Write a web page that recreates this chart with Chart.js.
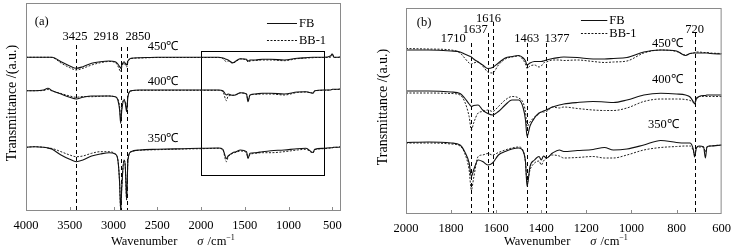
<!DOCTYPE html>
<html>
<head>
<meta charset="UTF-8">
<title>FTIR FB / BB-1</title>
<script src="https://cdn.jsdelivr.net/npm/chart.js"></script>
<style>
    body { margin: 0; background: #fff; }
    .panel { position: absolute; top: 0; height: 250px; }
    #wrapA { left: 0; width: 370px; }
    #wrapB { left: 370px; width: 368px; }
</style>
</head>
<body>
<div class="panel" id="wrapA"><canvas id="chartA"></canvas></div>
<div class="panel" id="wrapB"><canvas id="chartB"></canvas></div>
<script>
// ---- panel (a): 4000-400 cm-1, transmittance in arbitrary units ----
const wnA = [4000,3900,3800,3750,3700,3600,3500,3425,3350,3250,3150,3050,2980,2950,2930,2918,2905,2880,2865,2850,2835,2800,2700,2500,2200,2000,1800,1750,1710,1690,1637,1600,1550,1480,1463,1440,1377,1300,1200,1050,900,800,720,700,600,520,500,480,440,400];
const fbA450 = [153.7,153.7,153.7,153.7,153.7,149.3,145,142.7,144.3,147.7,149.3,150,149.3,147,144.3,142.7,146,149.3,147.7,146,150,152.7,153.3,153.7,153.7,153.7,153.7,153,151.7,151,148.3,150,152.3,151.7,149.7,151,151,151.7,151.7,151,152.7,153.3,153.7,153.7,153.7,155,156.7,153.7,153.7,154.3];
const bbA450 = [153.7,153.7,153.7,153.7,153.5,148,143.3,141,142.7,146,148.3,149.5,148.5,145,141,139,144,148,146,144,149,152.5,153,153.5,153.5,153.5,153.5,152.5,149.3,150,147.7,149.5,152,151,149,150,150.5,151,151,150.3,152.3,153,153.3,153.5,153.5,153.7,157.7,153.7,153.5,154];
const fbA400 = [120.3,120.3,121,122.7,120.3,117,113.7,112,113.7,115,115,115,114.3,111,101,87.7,101,111,107.7,99.3,114.3,120.3,121,121,121,121,121,120.3,116,117,115.7,116.3,118.3,117,109.3,116,117,117.7,117.7,117,119,119.3,117.7,120.3,121,121,121.7,121.7,121.7,122.3];
const bbA400 = [120.3,120.3,120.5,121.5,120,117.5,115,113.7,114.5,114.3,114.7,115,114,112,104,92.7,104,112,109.3,102.7,115.3,120,120.7,120.7,120.7,120.7,120.7,119.5,110.3,115,115.7,116.3,118,117,111,115.7,116.7,117,117,116,118.5,119,118,120,120.7,121,121.5,121.5,121.5,122];
const fbA350 = [63.7,64.3,63.7,63,61.7,56,51.7,49.3,51,55,57,58.3,57,51,28,1,24.3,51,44.3,11,51,59.3,61,61.7,62.3,62.7,63,61.7,52.5,55,58.3,59.3,61,59.3,52.7,57.7,58.3,59.3,60.3,61,62.3,62.7,58.5,61.7,62.7,63.3,63.3,63.7,63.7,64.3];
const bbA350 = [63.7,64.3,63.7,63,62.5,59.3,56,54.3,55,57.7,59.3,59.3,57,51,28,1,24.3,51,44.3,11,51,59,60.7,61.3,62,62.3,62.7,61,49.3,54,57.7,58.7,60,58.3,52.7,56.3,57.7,58.3,58.3,59.3,61,61.7,58,61.3,62.3,63,63.3,63.7,63.7,64.3];
const ticksA = [4000,3500,3000,2500,2000,1500,1000,500];
const peaksA = [3425,2918,2850];

// ---- panel (b): 2000-600 cm-1 ----
const wnB = [2000,1900,1800,1760,1740,1720,1710,1700,1680,1660,1637,1616,1590,1560,1530,1500,1480,1470,1463,1450,1430,1410,1400,1390,1377,1350,1320,1300,1240,1170,1120,1080,1020,945,870,800,760,740,725,720,712,700,680,672,665,650,600];
const fbB450 = [164,164,163,162,160,158,157,155,152,149,145.5,146.5,151,156,157.5,158.5,156,153,149,151,152.5,152.5,152.5,153,154,155.5,156.5,157,156.5,155,155,155.5,156.5,162,164,163,158.5,160.5,161,161,161,161,161,161,161,160.5,160];
const bbB450 = [165.5,165,164,161,156,151,150,151,152,148,142,141,149,155,157,158,154,150,145.5,148,149,147,148,151,152,154,154,153.5,154,152.5,151.5,152,153,161,164,162.5,159,160.5,161,161.5,162,162,161.5,161.5,161.5,161,160.5];
const fbB400 = [123,123,122,120.5,116,110,107.5,108.5,109,104,100.5,99,102.5,109,114,114,106,94,77.5,88,96,101,102,103,104,107,109,110,111.5,112.5,112,111.5,114,119,120.7,120,119,117,112,110,115,117.5,118.5,118.5,119,119,119];
const bbB400 = [121,121,120.5,119,112.5,97.5,84,91,101,102.5,104,102.5,107.5,114,117.5,116,111,102,87.5,92,97,100,102,102,102.5,107,106,107,105.5,104,103.5,103.5,106,112.5,115,115,114.5,113.5,111.5,111,116,117.5,117.5,117.5,117.5,117.5,117.5];
const fbB350 = [71.5,72,71,69,62.5,51,37.5,44,54,52.5,49,51,59,62.5,65,66,62.5,52,27.5,47.5,54,57.5,54,58,56,61,64,62.5,63.5,64.5,66.5,64,65,69,73.5,71.5,71,71,64,57,66,68,67,56,67,68,69];
const bbB350 = [71,71,70,68,61,44,24,36,57.5,59,60.5,59,61.5,64,66,67,63,52,31,44,51,53,49,53,56,59,58,56,56.5,57.5,56,56,59,64,66.5,67.5,68,68,63,59,66,67,67,62,67,68,69];
const ticksB = [2000,1800,1600,1400,1200,1000,800,600];
const peaksB = [1710,1637,1616,1463,1377,720];

const temps = ['450℃', '400℃', '350℃'];
const seriesNames = ['FB', 'BB-1'];

const SERIF = '"Liberation Serif", "Times New Roman", serif';

function pts(wn, vals) {
    return wn.map((w, i) => ({ x: w, y: vals[i] }));
}

function sets(wn, fbs, bbs) {
    const out = [];
    fbs.forEach((v, i) => {
        out.push({ label: seriesNames[0] + ' ' + temps[i], data: pts(wn, v), borderColor: '#111', borderWidth: 1.1, pointRadius: 0, cubicInterpolationMode: 'monotone' });
        out.push({ label: seriesNames[1] + ' ' + temps[i], data: pts(wn, bbs[i]), borderColor: '#222', borderWidth: 1, borderDash: [2, 1.5], pointRadius: 0, cubicInterpolationMode: 'monotone' });
    });
    return out;
}

// frame, inner ticks, peak markers, labels, legend
function decor(o) {
    return {
        id: 'decor',
        beforeDatasetsDraw(chart) {
            const { ctx, chartArea: a, scales: { x, y } } = chart;
            ctx.save();
            ctx.strokeStyle = '#000';
            ctx.lineWidth = 1;
            ctx.setLineDash([4, 3]);
            o.peaks.forEach((w, i) => {
                const px = Math.round(x.getPixelForValue(w)) + 0.5;
                ctx.beginPath();
                ctx.moveTo(px, y.getPixelForValue(o.peakTops[i]));
                ctx.lineTo(px, a.bottom);
                ctx.stroke();
            });
            if (o.box) {
                ctx.setLineDash([]);
                const x1 = Math.round(x.getPixelForValue(o.box[0])) + 0.5, x2 = Math.round(x.getPixelForValue(o.box[1])) + 0.5;
                const y1 = Math.round(y.getPixelForValue(o.box[2])) + 0.5, y2 = Math.round(y.getPixelForValue(o.box[3])) + 0.5;
                ctx.strokeRect(x1, y1, x2 - x1, y2 - y1);
            }
            ctx.restore();
        },
        afterDatasetsDraw(chart) {
            const { ctx, chartArea: a, scales: { x, y } } = chart;
            ctx.save();
            ctx.strokeStyle = '#8a8a8a';
            ctx.lineWidth = 1;
            ctx.strokeRect(a.left + 0.5, a.top + 0.5, a.right - a.left - 1, a.bottom - a.top - 1);
            x.ticks.forEach(t => {
                const px = Math.round(x.getPixelForValue(t.value)) + 0.5;
                if (px > a.left + 3 && px < a.right - 3) {
                    ctx.beginPath();
                    ctx.moveTo(px, a.bottom);
                    ctx.lineTo(px, a.bottom - 4);
                    ctx.stroke();
                }
            });
            ctx.fillStyle = '#000';
            ctx.font = '12.5px ' + SERIF;
            ctx.textAlign = 'center';
            ctx.textBaseline = 'middle';
            o.peakLabels.forEach(([w, v], i) => ctx.fillText(String(o.peaks[i]), x.getPixelForValue(w), y.getPixelForValue(v)));
            o.tempLabels.forEach(([w, v], i) => ctx.fillText(temps[i], x.getPixelForValue(w), y.getPixelForValue(v)));
            ctx.fillText(o.tag[0], x.getPixelForValue(o.tag[1]), y.getPixelForValue(o.tag[2]));
            // legend
            const lx1 = x.getPixelForValue(o.legend[0]), lx2 = x.getPixelForValue(o.legend[1]);
            ctx.textAlign = 'left';
            o.legend[2].forEach((v, i) => {
                const py = Math.round(y.getPixelForValue(v)) + 0.5;
                ctx.strokeStyle = '#111';
                ctx.lineWidth = 1;
                ctx.setLineDash(i === 0 ? [] : [2, 1.5]);
                ctx.beginPath();
                ctx.moveTo(lx1, py);
                ctx.lineTo(lx2, py);
                ctx.stroke();
                ctx.fillText(seriesNames[i], lx2 + 2, py);
            });
            ctx.restore();
        },
        afterDraw(chart) {
            const { ctx, chartArea: a } = chart;
            ctx.save();
            ctx.fillStyle = '#000';
            ctx.textBaseline = 'middle';
            // y title
            ctx.font = '14px ' + SERIF;
            ctx.textAlign = 'center';
            ctx.translate(a.left - o.yTitleGap, (a.top + a.bottom) / 2 - 4);
            ctx.rotate(-Math.PI / 2);
            ctx.fillText('Transmittance /(a.u.)', 0, 0);
            ctx.restore();
            // x title
            ctx.save();
            ctx.fillStyle = '#000';
            ctx.textBaseline = 'alphabetic';
            ctx.textAlign = 'left';
            const ty = 245;
            let tx = o.xTitleX;
            ctx.font = '12.5px ' + SERIF;
            ctx.fillText('Wavenumber', tx, ty);
            tx += ctx.measureText('Wavenumber').width + 20;
            ctx.font = 'italic 12.5px ' + SERIF;
            ctx.fillText('σ', tx, ty);
            tx += ctx.measureText('σ').width + 1;
            ctx.font = '12.5px ' + SERIF;
            ctx.fillText(' /cm', tx, ty);
            tx += ctx.measureText(' /cm').width;
            ctx.font = '8px ' + SERIF;
            ctx.fillText('−1', tx, ty - 5);
            ctx.restore();
        }
    };
}

function makeChart(id, wn, data, min, max, ticks, ymax, axisH, pad, o) {
    return new Chart(document.getElementById(id), {
        type: 'line',
        data: { datasets: data },
        options: {
            responsive: true,
            maintainAspectRatio: false,
            animation: false,
            devicePixelRatio: 1,
            layout: { padding: pad },
            plugins: { legend: { display: false }, tooltip: { enabled: false } },
            scales: {
                x: {
                    type: 'linear', reverse: true, min: min, max: max,
                    afterBuildTicks: s => { s.ticks = ticks.map(v => ({ value: v })); },
                    afterFit: s => { s.height = axisH; },
                    grid: { display: false, drawTicks: false },
                    border: { display: false },
                    ticks: { color: '#000', font: { family: SERIF, size: 12.5 }, padding: 7, maxRotation: 0, autoSkip: false, callback: v => String(v) }
                },
                y: { display: false, min: 0, max: ymax }
            }
        },
        plugins: [decor(o)]
    });
}

makeChart('chartA', wnA, sets(wnA, [fbA450, fbA400, fbA350], [bbA450, bbA400, bbA350]),
    400, 4000, ticksA, 208, 39, { left: 26, right: 29, top: 3, bottom: 0 }, {
        peaks: peaksA, peakTops: [166, 164, 164],
        peakLabels: [[3440, 174.3], [3086, 174.3], [2720, 174.3]],
        tempLabels: [[2434, 164.3], [2434, 129.3], [2434, 72.7]],
        tag: ['(a)', 3821, 189.3],
        legend: [1246, 903, [187.7, 171]],
        box: [2000, 600, 160.3, 36],
        yTitleGap: 14, xTitleX: 111
    });

makeChart('chartB', wnB, sets(wnB, [fbB450, fbB400, fbB350], [bbB450, bbB400, bbB350]),
    600, 2000, ticksB, 206, 36, { left: 36, right: 16, top: 8, bottom: 0 }, {
        peaks: peaksB, peakTops: [171, 181, 192, 171, 171, 181],
        peakLabels: [[1790, 175.7], [1693, 184], [1634, 195.7], [1464, 175.7], [1330, 175.7], [720, 184]],
        tempLabels: [[841, 170.7], [841, 134], [858, 89]],
        tag: ['(b)', 1920, 191],
        legend: [1224, 1107, [194, 180.7]],
        box: null,
        yTitleGap: 23, xTitleX: 134
    });
</script>
</body>
</html>
